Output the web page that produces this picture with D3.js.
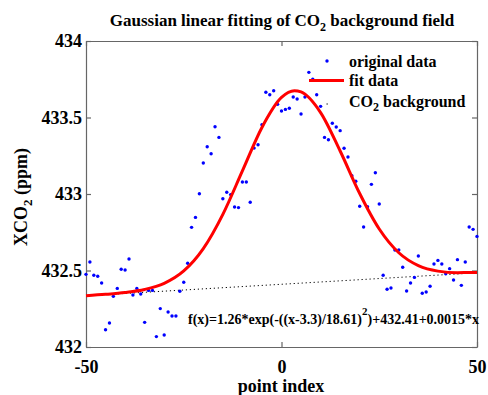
<!DOCTYPE html>
<html>
<head>
<meta charset="utf-8">
<script src="https://cdnjs.cloudflare.com/ajax/libs/d3/7.8.5/d3.min.js"></script>
<style>
  body { margin: 0; background: #fff; }
  svg text { font-family: "Liberation Serif", "Times New Roman", serif; font-weight: bold; fill: #000; }
</style>
</head>
<body>
<svg id="chart" width="488" height="395"></svg>
<script>
// point index -50 .. 50
let pointIndex = d3.range(-50, 51);
// XCO2 values (ppm)
let xco2 = [
  432.475, 432.556, 432.469, 432.462, 432.418, 432.113, 432.157, 432.331, 432.383, 432.508,
  432.503, 432.575, 432.340, 432.383, 432.346, 432.161, 432.370, 432.370, 432.068, 432.251,
  432.078, 432.229, 432.203, 432.203, 432.364, 432.423, 432.547, 432.782, 432.847, 433.002,
  433.203, 433.309, 433.263, 433.440, 433.370, 432.969, 433.011, 432.996, 432.915, 432.911,
  433.078, 433.078, 432.946, 433.300, 433.322, 433.453, 433.665, 433.649, 433.675, 433.586,
  433.542, 433.553, 433.560, 433.634, 433.621, 433.523, 433.634, 433.795, 433.750, 433.649,
  433.573, 433.370, 433.355, 433.462, 433.438, 433.414, 433.299, 433.242, 433.120, 433.083,
  432.920, 432.784, 432.917, 433.063, 433.139, 432.935, 432.469, 432.377, 432.386, 432.634,
  432.634, 432.521, 432.366, 432.418, 432.455, 432.595, 432.351, 432.359, 432.397, 432.542,
  432.566, 432.542, 432.479, 432.512, 432.438, 432.571, 432.403, 432.556, 432.784, 432.769,
  432.723
];
// fitted gaussian curve, sampled from the red line
let fitX = [-50, -45, -40, -35, -30, -25, -20, -15, -10, -5, 0, 3.3, 5, 10, 15, 20, 25, 30, 35, 40, 45, 50];
let fitY = [432.335, 432.344, 432.356, 432.376, 432.416, 432.497, 432.643, 432.867, 433.151, 433.435,
            433.631, 433.675, 433.667, 433.532, 433.281, 433.003, 432.771, 432.616, 432.532, 432.496, 432.486, 432.487];
// linear background (dotted)
let bgX = [-50, 50];
let bgY = [432.335, 432.485];

let xTicks = [-50, 0, 50];
let yTicks = [432, 432.5, 433, 433.5, 434];
let legendLabels = ["original data", "fit data", "CO2 background"];

let svg = d3.select('#chart');
let m = {left: 86, right: 477, top: 41, bottom: 347};

let x = d3.scaleLinear().domain([-50, 50]).range([m.left, m.right]);
let y = d3.scaleLinear().domain([432, 434]).range([m.bottom, m.top]);

let axisColor = '#666';

// axes (ticks point inward like matlab)
function styleAxis(g){
    g.selectAll('path,line').attr('stroke', axisColor).attr('stroke-width', 1.2);
    g.selectAll('text').style('font-size', '18px').attr('fill', '#000');
}
svg.append('g').attr('transform', `translate(0,${m.bottom})`)
    .call(d3.axisBottom(x).tickValues(xTicks).tickSizeInner(-5).tickSizeOuter(0).tickPadding(8).tickFormat(d => d))
    .call(styleAxis)
    .selectAll('text').attr('dy', '1em');
svg.append('g').attr('transform', `translate(0,${m.top})`)
    .call(d3.axisTop(x).tickValues(xTicks).tickSizeInner(-5).tickSizeOuter(0).tickFormat(''))
    .call(styleAxis);
svg.append('g').attr('transform', `translate(${m.left},0)`)
    .call(d3.axisLeft(y).tickValues(yTicks).tickSizeInner(-5).tickSizeOuter(0).tickPadding(4).tickFormat(d => d))
    .call(styleAxis);
svg.append('g').attr('transform', `translate(${m.right},0)`)
    .call(d3.axisRight(y).tickValues(yTicks).tickSizeInner(-5).tickSizeOuter(0).tickFormat(''))
    .call(styleAxis);
svg.selectAll('.domain').attr('stroke', axisColor).attr('stroke-width', 1.2);

// background dotted line
svg.append('path')
    .datum(bgX.map((d, i) => [d, bgY[i]]))
    .attr('d', d3.line().x(d => x(d[0])).y(d => y(d[1])))
    .attr('fill', 'none').attr('stroke', '#000').attr('stroke-width', 1)
    .attr('stroke-dasharray', '1.2,2.8');

// data points
svg.append('g').selectAll('circle')
    .data(pointIndex.map((d, i) => [d, xco2[i]]))
    .enter().append('circle')
    .attr('cx', d => x(d[0]))
    .attr('cy', d => y(d[1]))
    .attr('r', 1.7)
    .attr('fill', '#0000ff');

// fit curve
svg.append('path')
    .datum(fitX.map((d, i) => [d, fitY[i]]))
    .attr('d', d3.line().curve(d3.curveMonotoneX).x(d => x(d[0])).y(d => y(d[1])))
    .attr('fill', 'none').attr('stroke', '#ff0000').attr('stroke-width', 3);

// legend
let lg = svg.append('g');
lg.append('circle').attr('cx', 327).attr('cy', 61).attr('r', 1.7).attr('fill', '#0000ff');
lg.append('line').attr('x1', 309).attr('x2', 344).attr('y1', 80.5).attr('y2', 80.5)
    .attr('stroke', '#ff0000').attr('stroke-width', 3);
lg.append('line').attr('x1', 326.5).attr('x2', 327.8).attr('y1', 104).attr('y2', 104)
    .attr('stroke', '#000').attr('stroke-width', 1);
lg.append('text').attr('x', 349).attr('y', 67).style('font-size', '16px').text(legendLabels[0]);
lg.append('text').attr('x', 349).attr('y', 86).style('font-size', '16px').text(legendLabels[1]);
let co2 = lg.append('text').attr('x', 349).attr('y', 107).style('font-size', '16px');
co2.append('tspan').text('CO');
co2.append('tspan').attr('dy', 4).style('font-size', '12px').text('2');
co2.append('tspan').attr('dy', -4).text(' background');

// title
let title = svg.append('text').attr('x', 282).attr('y', 26).attr('text-anchor', 'middle').style('font-size', '17px');
title.append('tspan').text('Gaussian linear fitting of CO');
title.append('tspan').attr('dy', 5).style('font-size', '12px').text('2');
title.append('tspan').attr('dy', -5).text(' background field');

// axis labels
svg.append('text').attr('x', 281).attr('y', 392).attr('text-anchor', 'middle').style('font-size', '18px').text('point index');
let yl = svg.append('text').attr('transform', 'translate(27,197) rotate(-90)').attr('text-anchor', 'middle').style('font-size', '18px');
yl.append('tspan').text('XCO');
yl.append('tspan').attr('dy', 5).style('font-size', '13px').text('2');
yl.append('tspan').attr('dy', -5).text(' (ppm)');

// formula
let fx = svg.append('text').attr('x', 188).attr('y', 324).style('font-size', '14px');
fx.append('tspan').text('f(x)=1.26*exp(-((x-3.3)/18.61)');
fx.append('tspan').attr('dy', -9).style('font-size', '11px').text('2');
fx.append('tspan').attr('dy', 9).text(')+432.41+0.0015*x');
</script>
</body>
</html>
